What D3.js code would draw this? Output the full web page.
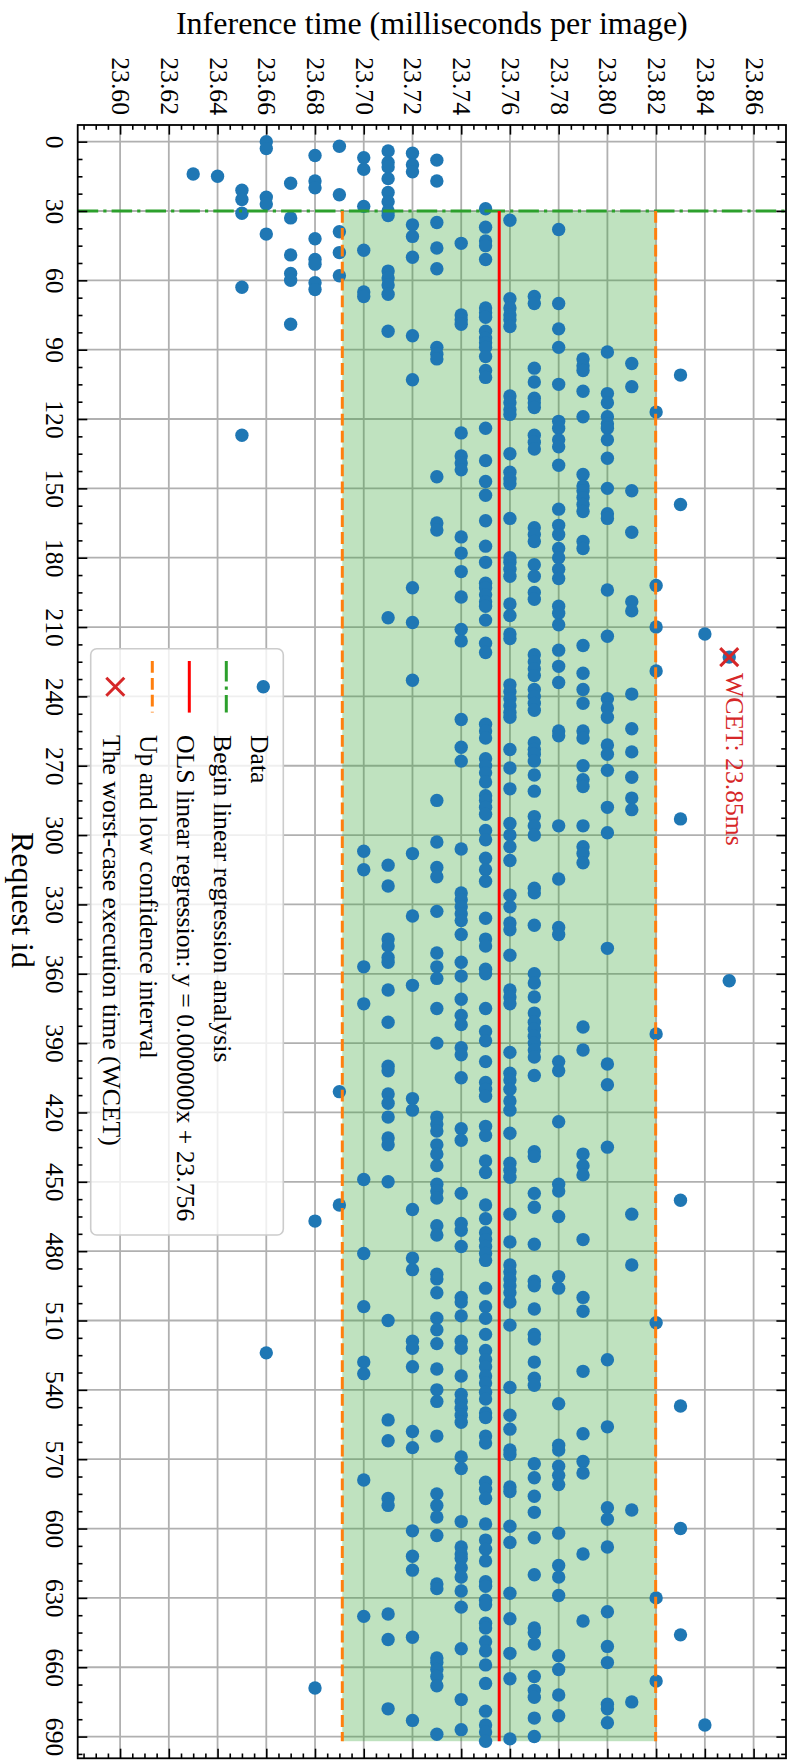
<!DOCTYPE html>
<html>
<head>
<meta charset="utf-8">
<script src="https://cdn.jsdelivr.net/npm/d3@7"></script>
<style>
  body { margin: 0; background: #fff; }
  svg { display: block; }
  text { font-family: "Liberation Serif", "Times New Roman", "DejaVu Serif", serif; }
</style>
</head>
<body>
<svg id="chart" width="792" height="1760"></svg>
<script>
// ---------------- DATA ----------------
const timeTicks = [23.60, 23.62, 23.64, 23.66, 23.68, 23.70, 23.72, 23.74, 23.76, 23.78, 23.80, 23.82, 23.84, 23.86];
const idTicks = [0, 30, 60, 90, 120, 150, 180, 210, 240, 270, 300, 330, 360, 390, 420, 450, 480, 510, 540, 570, 600, 630, 660, 690];

// inference-time levels (ms) observed in the scatter
const timeLevels = [23.63, 23.64, 23.65, 23.66, 23.67, 23.68, 23.69, 23.70, 23.71, 23.72, 23.73, 23.74,
                    23.75, 23.76, 23.77, 23.78, 23.79, 23.80, 23.81, 23.82, 23.83, 23.84, 23.85];
// request ids observed at each level
const ids2363 = [14];
const ids2364 = [15];
const ids2365 = [21, 25, 31, 63, 127];
const ids2366 = [0, 3, 24, 27, 40, 524];
const ids2367 = [18, 33, 49, 57, 60, 79];
const ids2368 = [6, 17, 20, 42, 51, 53, 61, 64, 467, 669];
const ids2369 = [2, 23, 39, 48, 58, 411, 460];
const ids2370 = [7, 12, 28, 47, 65, 67, 307, 315, 357, 373, 449, 481, 504, 528, 533, 579, 638];
const ids2371 = [4, 9, 11, 16, 22, 26, 30, 32, 56, 59, 62, 66, 82, 206, 313, 322, 345, 348, 353, 355, 367, 381,
                 400, 402, 412, 416, 422, 431, 434, 450, 510, 553, 562, 587, 590, 637, 648, 678];
const ids2372 = [5, 10, 13, 36, 41, 50, 84, 103, 193, 208, 233, 308, 335, 365, 414, 419, 462, 483, 488, 519,
                 522, 530, 558, 565, 601, 612, 618, 647, 683];
const ids2373 = [8, 17, 35, 46, 55, 89, 92, 94, 145, 165, 168, 285, 303, 314, 318, 333, 351, 357, 362, 375,
                 390, 422, 425, 428, 434, 438, 443, 451, 454, 457, 469, 473, 490, 492, 498, 509, 514, 520,
                 531, 540, 545, 560, 585, 590, 595, 603, 624, 626, 656, 658, 661, 664, 668, 689];
const ids2374 = [44, 75, 77, 79, 126, 136, 139, 142, 171, 178, 186, 197, 211, 216, 250, 262, 268, 306, 325,
                 328, 331, 334, 337, 343, 355, 361, 371, 378, 382, 392, 395, 405, 427, 432, 455, 468, 471,
                 478, 500, 502, 508, 519, 522, 534, 542, 545, 548, 551, 554, 569, 574, 597, 608, 611, 613,
                 617, 621, 627, 634, 652, 674, 687];
const ids2375 = [29, 37, 43, 45, 51, 72, 74, 76, 82, 85, 87, 89, 93, 99, 102, 124, 138, 147, 153, 164, 175,
                 182, 191, 193, 196, 199, 201, 207, 217, 221, 252, 255, 258, 267, 270, 273, 277, 283, 285,
                 288, 291, 298, 302, 310, 315, 320, 336, 345, 348, 358, 360, 375, 385, 389, 398, 407, 410,
                 413, 426, 430, 441, 446, 460, 466, 472, 475, 478, 481, 484, 496, 504, 509, 516, 523, 527,
                 530, 534, 537, 541, 544, 550, 552, 560, 563, 580, 583, 587, 598, 605, 609, 614, 623, 625,
                 631, 633, 641, 643, 649, 653, 659, 667, 679, 685, 688, 692];
const ids2376 = [34, 68, 72, 75, 77, 80, 110, 113, 116, 118, 135, 143, 146, 148, 163, 180, 182, 185, 188, 200,
                 205, 213, 215, 235, 238, 241, 244, 247, 249, 263, 271, 280, 295, 300, 305, 311, 326, 331,
                 338, 341, 352, 367, 370, 373, 394, 403, 406, 410, 415, 419, 429, 442, 445, 448, 464, 476,
                 486, 489, 492, 495, 498, 502, 512, 539, 551, 557, 566, 568, 582, 584, 599, 606, 628, 639,
                 654, 665, 691];
const ids2377 = [67, 70, 98, 104, 111, 113, 115, 127, 130, 133, 167, 170, 173, 183, 188, 195, 198, 222, 225,
                 228, 231, 237, 240, 243, 246, 260, 263, 265, 268, 274, 281, 292, 296, 300, 323, 325, 339,
                 360, 364, 370, 377, 381, 384, 387, 390, 393, 396, 404, 437, 439, 455, 461, 477, 493, 495,
                 505, 516, 518, 528, 535, 538, 572, 578, 586, 593, 604, 620, 643, 645, 650, 664, 670, 673,
                 682, 690];
const ids2378 = [38, 70, 81, 89, 105, 121, 124, 129, 132, 140, 159, 166, 170, 176, 180, 185, 189, 201, 204,
                 209, 220, 227, 234, 255, 257, 296, 319, 340, 343, 398, 402, 424, 451, 454, 465, 491, 496,
                 546, 564, 566, 573, 577, 581, 602, 616, 621, 629, 655, 661, 672, 681];
const ids2379 = [94, 97, 99, 108, 119, 144, 149, 151, 154, 157, 160, 173, 176, 218, 230, 237, 243, 255, 258,
                 270, 276, 279, 296, 305, 308, 312, 383, 393, 438, 443, 447, 475, 500, 506, 532, 559, 571,
                 576, 611, 640];
const ids2380 = [91, 109, 113, 119, 122, 124, 129, 137, 150, 161, 163, 194, 214, 241, 245, 249, 261, 265,
                 272, 288, 299, 349, 399, 408, 435, 527, 556, 591, 596, 608, 636, 651, 658, 676, 678, 684];
const ids2381 = [96, 106, 151, 169, 199, 203, 239, 254, 264, 275, 284, 289, 464, 486, 592, 675];
const ids2382 = [117, 192, 210, 229, 386, 511, 630, 666];
const ids2383 = [101, 157, 293, 458, 547, 600, 646];
const ids2384 = [213, 685];
const ids2385 = [223, 363];
const idsByLevel = [ids2363, ids2364, ids2365, ids2366, ids2367, ids2368, ids2369, ids2370, ids2371, ids2372,
                    ids2373, ids2374, ids2375, ids2376, ids2377, ids2378, ids2379, ids2380, ids2381, ids2382,
                    ids2383, ids2384, ids2385];

const regressionStartId = 30;
const regressionEndId = 692;
const olsIntercept = 23.7556;
const ciLower = 23.6912;
const ciUpper = 23.8198;
const wcetId = 223;
const wcetTime = 23.85;

const legendLabels = ["Data", "Begin linear regression analysis", "OLS linear regression: y = 0.000000x + 23.756",
                      "Up and low confidence interval", "The worst-case execution time (WCET)"];

// ---------------- LAYOUT ----------------
const W = 792, H = 1760;
const plot = { left: 77.7, right: 786, top: 125, bottom: 1758.3 };
const FONT = '"Liberation Serif", "Times New Roman", "DejaVu Serif", serif';
const C = { blue: "#1f77b4", green: "#2ca02c", orange: "#ff7f0e", red: "#ff0000", wcet: "#d62728", grid: "#b0b0b0" };

const svg = d3.select("#chart");
svg.append("rect").attr("width", W).attr("height", H).attr("fill", "#fff");

const x = d3.scaleLinear().domain([23.5826, 23.8733]).range([plot.left, plot.right]);
const y = d3.scaleLinear().domain([-7.2, 699.4]).range([plot.top, plot.bottom]);

svg.append("defs").append("clipPath").attr("id", "clip")
  .append("rect").attr("x", plot.left).attr("y", plot.top)
  .attr("width", plot.right - plot.left).attr("height", plot.bottom - plot.top);
const gPlot = svg.append("g").attr("clip-path", "url(#clip)");

// grid
gPlot.append("g").selectAll("line").data(timeTicks).join("line")
  .attr("x1", d => x(d)).attr("x2", d => x(d)).attr("y1", plot.top).attr("y2", plot.bottom)
  .attr("stroke", C.grid).attr("stroke-width", 1.8);
gPlot.append("g").selectAll("line").data(idTicks).join("line")
  .attr("y1", d => y(d)).attr("y2", d => y(d)).attr("x1", plot.left).attr("x2", plot.right)
  .attr("stroke", C.grid).attr("stroke-width", 1.8);

// confidence band
gPlot.append("rect")
  .attr("x", x(ciLower)).attr("width", x(ciUpper) - x(ciLower))
  .attr("y", y(regressionStartId)).attr("height", y(regressionEndId) - y(regressionStartId))
  .attr("fill", C.green).attr("fill-opacity", 0.3);

// scatter
const points = [];
timeLevels.forEach((t, i) => idsByLevel[i].forEach(id => points.push({ id, t })));
points.sort((a, b) => a.id - b.id);
gPlot.append("g").selectAll("circle").data(points).join("circle")
  .attr("cx", d => x(d.t)).attr("cy", d => y(d.id)).attr("r", 6.7).attr("fill", C.blue);

// lines
const dashdot = "20.5,5.1,3.2,5.1";
const dashed = "11.8,5.1";
gPlot.append("line")
  .attr("x1", plot.left).attr("x2", plot.right).attr("y1", y(regressionStartId)).attr("y2", y(regressionStartId))
  .attr("stroke", C.green).attr("stroke-width", 3).attr("stroke-dasharray", dashdot);
[ciLower, ciUpper].forEach(v => {
  gPlot.append("line")
    .attr("x1", x(v)).attr("x2", x(v)).attr("y1", y(regressionStartId)).attr("y2", y(regressionEndId))
    .attr("stroke", C.orange).attr("stroke-width", 3).attr("stroke-dasharray", dashed);
});
gPlot.append("line")
  .attr("x1", x(olsIntercept)).attr("x2", x(olsIntercept)).attr("y1", y(regressionStartId)).attr("y2", y(regressionEndId))
  .attr("stroke", C.red).attr("stroke-width", 3);

// WCET marker
function xMarker(g, cx, cy, s) {
  g.append("path")
    .attr("d", `M${cx - s},${cy - s}L${cx + s},${cy + s}M${cx - s},${cy + s}L${cx + s},${cy - s}`)
    .attr("stroke", C.wcet).attr("stroke-width", 3).attr("fill", "none");
}
xMarker(gPlot, x(wcetTime), y(wcetId), 9);

// rotated text helper (reads top to bottom)
function vText(g, px, py, str, size, anchor, dy, color) {
  return g.append("text")
    .attr("transform", `translate(${px},${py}) rotate(90)`)
    .attr("text-anchor", anchor).attr("dy", dy)
    .attr("font-family", FONT).attr("font-size", size).attr("fill", color || "#000")
    .text(str);
}
vText(svg, x(wcetTime) - 3, 673, `WCET: ${wcetTime.toFixed(2)}ms`, 25.7, "start", "0em", C.wcet);

// ---------------- AXES ----------------
function clean(g) {
  g.select(".domain").remove();
  g.attr("font-family", FONT).attr("font-size", 25.7);
  g.selectAll(".tick line").attr("stroke", "#000").attr("stroke-width", 1.6);
}
const minorX = d3.range(4717, 4775).filter(k => k % 4 !== 0).map(k => k * 0.005);
const minorY = d3.range(0, 700, 7.5).filter(v => v % 30 !== 0);

// top (labels)
const gTop = svg.append("g").attr("transform", `translate(0,${plot.top})`)
  .call(d3.axisTop(x).tickValues(timeTicks).tickSize(-9.6).tickFormat(d3.format(".2f")));
clean(gTop);
gTop.selectAll(".tick text")
  .attr("x", 0).attr("y", 0).attr("dy", "0.33em").attr("text-anchor", "end")
  .attr("transform", "translate(0,-10) rotate(90)").attr("fill", "#000");
svg.append("g").attr("transform", `translate(0,${plot.top})`)
  .call(d3.axisTop(x).tickValues(minorX).tickSize(-4.8).tickFormat("")).call(clean);

// bottom
svg.append("g").attr("transform", `translate(0,${plot.bottom})`)
  .call(d3.axisBottom(x).tickValues(timeTicks).tickSize(-9.6).tickFormat("")).call(clean);
svg.append("g").attr("transform", `translate(0,${plot.bottom})`)
  .call(d3.axisBottom(x).tickValues(minorX).tickSize(-4.8).tickFormat("")).call(clean);

// left (labels)
const gLeft = svg.append("g").attr("transform", `translate(${plot.left},0)`)
  .call(d3.axisLeft(y).tickValues(idTicks).tickSize(-9.6).tickFormat(d3.format("d")));
clean(gLeft);
gLeft.selectAll(".tick text")
  .attr("x", 0).attr("y", 0).attr("dy", "0em").attr("text-anchor", "middle")
  .attr("transform", "translate(-31.7,0) rotate(90)").attr("fill", "#000");
svg.append("g").attr("transform", `translate(${plot.left},0)`)
  .call(d3.axisLeft(y).tickValues(minorY).tickSize(-4.8).tickFormat("")).call(clean);

// right
svg.append("g").attr("transform", `translate(${plot.right},0)`)
  .call(d3.axisRight(y).tickValues(idTicks).tickSize(-9.6).tickFormat("")).call(clean);
svg.append("g").attr("transform", `translate(${plot.right},0)`)
  .call(d3.axisRight(y).tickValues(minorY).tickSize(-4.8).tickFormat("")).call(clean);

// frame
svg.append("rect").attr("x", plot.left).attr("y", plot.top)
  .attr("width", plot.right - plot.left).attr("height", plot.bottom - plot.top)
  .attr("fill", "none").attr("stroke", "#000").attr("stroke-width", 1.8);

// axis titles
svg.append("text").attr("x", (plot.left + plot.right) / 2).attr("y", 34)
  .attr("text-anchor", "middle").attr("font-family", FONT).attr("font-size", 32)
  .text("Inference time (milliseconds per image)");
vText(svg, 12, 900, "Request id", 32, "middle", "0em");

// ---------------- LEGEND ----------------
const lg = svg.append("g");
lg.append("rect").attr("x", 90.7).attr("y", 648.8).attr("width", 192.6).attr("height", 586.2)
  .attr("rx", 6).attr("fill", "#fff").attr("fill-opacity", 0.8)
  .attr("stroke", "#cccccc").attr("stroke-width", 1.6);
const colX = i => 263.3 - i * 37;
const hTop = 661, hBot = 712.6, hMid = (hTop + hBot) / 2;
lg.append("circle").attr("cx", colX(0)).attr("cy", hMid).attr("r", 6.7).attr("fill", C.blue);
lg.append("line").attr("x1", colX(1)).attr("x2", colX(1)).attr("y1", hTop).attr("y2", hBot)
  .attr("stroke", C.green).attr("stroke-width", 3).attr("stroke-dasharray", dashdot);
lg.append("line").attr("x1", colX(2)).attr("x2", colX(2)).attr("y1", hTop).attr("y2", hBot)
  .attr("stroke", C.red).attr("stroke-width", 3);
lg.append("line").attr("x1", colX(3)).attr("x2", colX(3)).attr("y1", hTop).attr("y2", hBot)
  .attr("stroke", C.orange).attr("stroke-width", 3).attr("stroke-dasharray", dashed);
xMarker(lg, colX(4), hMid, 9);
legendLabels.forEach((s, i) => vText(lg, colX(i), 735, s, 25.7, "start", "0.47em"));
</script>
</body>
</html>
